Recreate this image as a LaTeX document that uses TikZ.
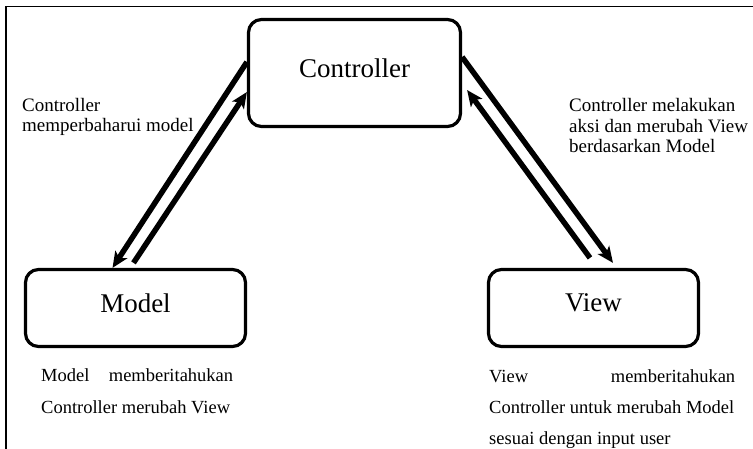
\documentclass[tikz,border=0pt]{standalone}
\usepackage{fontspec}
\setmainfont{Liberation Serif}
\usetikzlibrary{arrows.meta}
\begin{document}
\begin{tikzpicture}[x=1pt,y=-1pt,
  box/.style={draw, line width=3.2pt, rounded corners=13pt, inner sep=0pt,
    font=\fontsize{27}{30}\selectfont, text depth=10pt},
  note/.style={inner sep=0pt, align=left, anchor=base west},
  flow/.style={line width=5.5pt, -{Stealth[length=16pt,width=14pt,inset=4pt]}}]
\useasboundingbox (0,0) rectangle (753,449);
\draw[line width=1.8pt] (6,449) -- (6,6.5) -- (753,6.5);

\node[box, minimum width=212pt, minimum height=107pt] (ctrl) at (354.5,73) {Controller};
\node[box, minimum width=220pt, minimum height=77pt] (model) at (135.5,308) {Model};
\node[box, minimum width=210pt, minimum height=77pt] (view) at (593.5,308) {View};

\draw[flow] ([yshift=11pt]ctrl.west) -- ([xshift=-23pt]model.north);
\draw[flow] ([xshift=-2pt,yshift=5pt]model.north) -- ([yshift=-19pt]ctrl.west);
\draw[flow] ([yshift=16pt]ctrl.east) -- ([xshift=19.5pt,yshift=5pt]view.north);
\draw[flow] ([xshift=-3.5pt,yshift=10pt]view.north) -- ([xshift=5pt,yshift=-17pt]ctrl.east);

\node[note, font=\fontsize{19}{20}\selectfont] (n1) at (22,132)
  {Controller\\memperbaharui model};
\node[note, font=\fontsize{19}{20.5}\selectfont] (n2) at (569,153)
  {Controller melakukan\\aksi dan merubah View\\berdasarkan Model};
\node[note, font=\fontsize{18.5}{32}\selectfont] (n3) at (41,413)
  {\makebox[192pt][s]{Model memberitahukan}\\Controller merubah View};
\node[note, font=\fontsize{18.5}{31}\selectfont] (n4) at (489,444)
  {\makebox[246pt][s]{View memberitahukan}\\Controller untuk merubah Model\\sesuai dengan input user};
\end{tikzpicture}
\end{document}
